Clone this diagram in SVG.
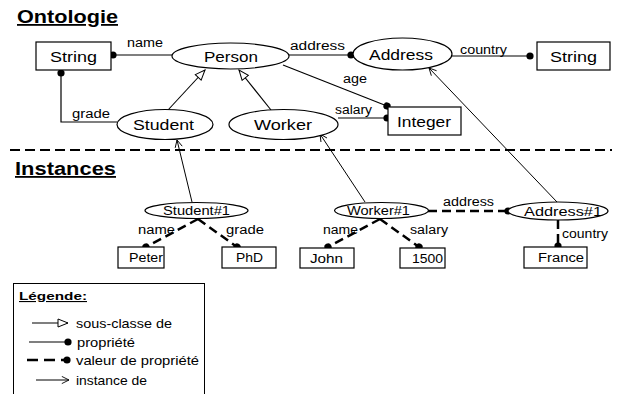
<svg xmlns="http://www.w3.org/2000/svg" width="622" height="394" viewBox="0 0 622 394">
<defs>
<marker id="tri" viewBox="0 0 12 10" refX="11" refY="5" markerWidth="12" markerHeight="10" markerUnits="userSpaceOnUse" orient="auto"><path d="M1,1 L11,5 L1,9 Z" fill="#fff" stroke="#000" stroke-width="1"/></marker>
<marker id="open" viewBox="0 0 10 10" refX="9" refY="5" markerWidth="9" markerHeight="9" markerUnits="userSpaceOnUse" orient="auto"><path d="M1,1 L9,5 L1,9" fill="none" stroke="#000" stroke-width="1"/></marker>
<marker id="dot" viewBox="0 0 10 10" refX="5" refY="5" markerWidth="8" markerHeight="8" markerUnits="userSpaceOnUse" orient="auto"><circle cx="5" cy="5" r="4.5" fill="#000"/></marker>
</defs>
<style>
.t{font-family:"Liberation Sans",Arial,sans-serif;fill:#000}
.n{font-size:15.5px}
.s{font-size:12.5px}
.i{font-size:12.5px}
.l{font-size:13px}
.h{font-size:18px;font-weight:bold;text-decoration:underline}
.shape{fill:#fff;stroke:#000;stroke-width:1.2}
.prop{fill:none;stroke:#000;stroke-width:1.2;marker-end:url(#dot)}
.val{fill:none;stroke:#000;stroke-width:2.5;stroke-dasharray:9,5;marker-end:url(#dot)}
.sub{fill:none;stroke:#000;stroke-width:1.1;marker-end:url(#tri)}
.inst{fill:none;stroke:#000;stroke-width:1;marker-end:url(#open)}
</style>
<rect width="622" height="394" fill="#fff"/>
<text class="t h" x="17" y="23" textLength="101" lengthAdjust="spacingAndGlyphs">Ontologie</text>
<text class="t h" x="15" y="175" textLength="101" lengthAdjust="spacingAndGlyphs">Instances</text>
<line x1="10" y1="150" x2="612" y2="150" stroke="#000" stroke-width="2" stroke-dasharray="10,5"/>
<g id="connectors">
<path class="prop" d="M172,55 L113,55"/>
<path class="prop" d="M117,122 L61,122 L61,73"/>
<path class="prop" d="M289,55 L351,55"/>
<path class="prop" d="M452,56 L530,56"/>
<path class="prop" d="M283,65 L387,106"/>
<path class="prop" d="M338,118 L387,118"/>
<path class="sub" d="M168,110 L205,70"/>
<path class="sub" d="M271,110 L239,70"/>
<path class="inst" d="M192,202 L177,140"/>
<path class="inst" d="M365,202 L320,134"/>
<path class="inst" d="M557,202 L429,68"/>
<path class="val" d="M198,219 L146,247"/>
<path class="val" d="M198,219 L237,247"/>
<path class="val" d="M380,219 L328,247"/>
<path class="val" d="M380,219 L419,247"/>
<path class="val" d="M428,211 L508,211"/>
<path class="val" d="M558,220 L558,246"/>
<text class="t s" x="127" y="47" textLength="36" lengthAdjust="spacingAndGlyphs">name</text>
<text class="t s" x="72" y="118" textLength="38" lengthAdjust="spacingAndGlyphs">grade</text>
<text class="t s" x="290" y="50" textLength="55" lengthAdjust="spacingAndGlyphs">address</text>
<text class="t s" x="460" y="54" textLength="47" lengthAdjust="spacingAndGlyphs">country</text>
<text class="t s" x="343" y="83" textLength="24" lengthAdjust="spacingAndGlyphs">age</text>
<text class="t s" x="335" y="114" textLength="37" lengthAdjust="spacingAndGlyphs">salary</text>
<text class="t s" x="138" y="234" textLength="37" lengthAdjust="spacingAndGlyphs">name</text>
<text class="t s" x="226" y="234" textLength="38" lengthAdjust="spacingAndGlyphs">grade</text>
<text class="t s" x="323" y="234" textLength="35" lengthAdjust="spacingAndGlyphs">name</text>
<text class="t s" x="410" y="234" textLength="38" lengthAdjust="spacingAndGlyphs">salary</text>
<text class="t s" x="443" y="206" textLength="51" lengthAdjust="spacingAndGlyphs">address</text>
<text class="t s" x="562" y="238" textLength="46" lengthAdjust="spacingAndGlyphs">country</text>
</g>
<g id="String1"><rect class="shape" x="36" y="42" width="75" height="28"/><text class="t n" x="50" y="62" textLength="47" lengthAdjust="spacingAndGlyphs">String</text></g>
<g id="Person"><ellipse class="shape" cx="230.5" cy="56" rx="58.5" ry="13"/><text class="t n" x="204" y="62" textLength="54" lengthAdjust="spacingAndGlyphs">Person</text></g>
<g id="Address"><ellipse class="shape" cx="402.5" cy="54" rx="49.5" ry="16"/><text class="t n" x="369" y="60" textLength="64" lengthAdjust="spacingAndGlyphs">Address</text></g>
<g id="String2"><rect class="shape" x="537" y="42" width="73" height="28"/><text class="t n" x="550" y="62" textLength="47" lengthAdjust="spacingAndGlyphs">String</text></g>
<g id="Student"><ellipse class="shape" cx="165" cy="124.5" rx="48" ry="15"/><text class="t n" x="133" y="130" textLength="61" lengthAdjust="spacingAndGlyphs">Student</text></g>
<g id="Worker"><ellipse class="shape" cx="283.5" cy="124.5" rx="54.5" ry="15"/><text class="t n" x="254" y="130" textLength="58" lengthAdjust="spacingAndGlyphs">Worker</text></g>
<g id="Integer"><rect class="shape" x="388" y="107" width="73" height="28"/><text class="t n" x="397" y="127" textLength="54" lengthAdjust="spacingAndGlyphs">Integer</text></g>
<g id="Student1"><ellipse class="shape" cx="196.5" cy="210.5" rx="51.5" ry="8"/><text class="t i" x="163" y="215" textLength="67" lengthAdjust="spacingAndGlyphs">Student#1</text></g>
<g id="Worker1"><ellipse class="shape" cx="381.5" cy="210.5" rx="47" ry="8"/><text class="t i" x="347" y="215" textLength="63" lengthAdjust="spacingAndGlyphs">Worker#1</text></g>
<g id="Address1"><ellipse class="shape" cx="558" cy="211" rx="50" ry="9"/><text class="t i" x="524" y="216" textLength="78" lengthAdjust="spacingAndGlyphs">Address#1</text></g>
<g id="Peter"><rect class="shape" x="118" y="247" width="46" height="21"/><text class="t i" x="129" y="262" textLength="34" lengthAdjust="spacingAndGlyphs">Peter</text></g>
<g id="PhD"><rect class="shape" x="222" y="247" width="54" height="21"/><text class="t i" x="236" y="262" textLength="27" lengthAdjust="spacingAndGlyphs">PhD</text></g>
<g id="John"><rect class="shape" x="300" y="248" width="54" height="20"/><text class="t i" x="310" y="262.5" textLength="33" lengthAdjust="spacingAndGlyphs">John</text></g>
<g id="N1500"><rect class="shape" x="400" y="248" width="45" height="20"/><text class="t i" x="412" y="262.5" textLength="31" lengthAdjust="spacingAndGlyphs">1500</text></g>
<g id="France"><rect class="shape" x="524" y="247" width="63" height="21"/><text class="t i" x="538" y="262" textLength="46" lengthAdjust="spacingAndGlyphs">France</text></g>
<g id="legend">
<rect x="13.5" y="283.5" width="191" height="130" fill="none" stroke="#000" stroke-width="1"/>
<text class="t" x="19" y="300" textLength="68" lengthAdjust="spacingAndGlyphs" style="font-size:11px;font-weight:bold;text-decoration:underline">Légende:</text>
<path class="sub" d="M32,323 L68,323"/>
<text class="t l" x="76" y="327.5" textLength="96" lengthAdjust="spacingAndGlyphs">sous-classe de</text>
<path class="prop" d="M29,342 L68,342"/>
<text class="t l" x="77" y="346.5" textLength="58" lengthAdjust="spacingAndGlyphs">propriété</text>
<path d="M27,360 L67,360" fill="none" stroke="#000" stroke-width="2.5" stroke-dasharray="11,6" marker-end="url(#dot)"/>
<text class="t l" x="76" y="364.5" textLength="123" lengthAdjust="spacingAndGlyphs">valeur de propriété</text>
<path class="inst" d="M36,380 L69,380"/>
<text class="t l" x="76" y="384.5" textLength="71" lengthAdjust="spacingAndGlyphs">instance de</text>
</g>
</svg>
